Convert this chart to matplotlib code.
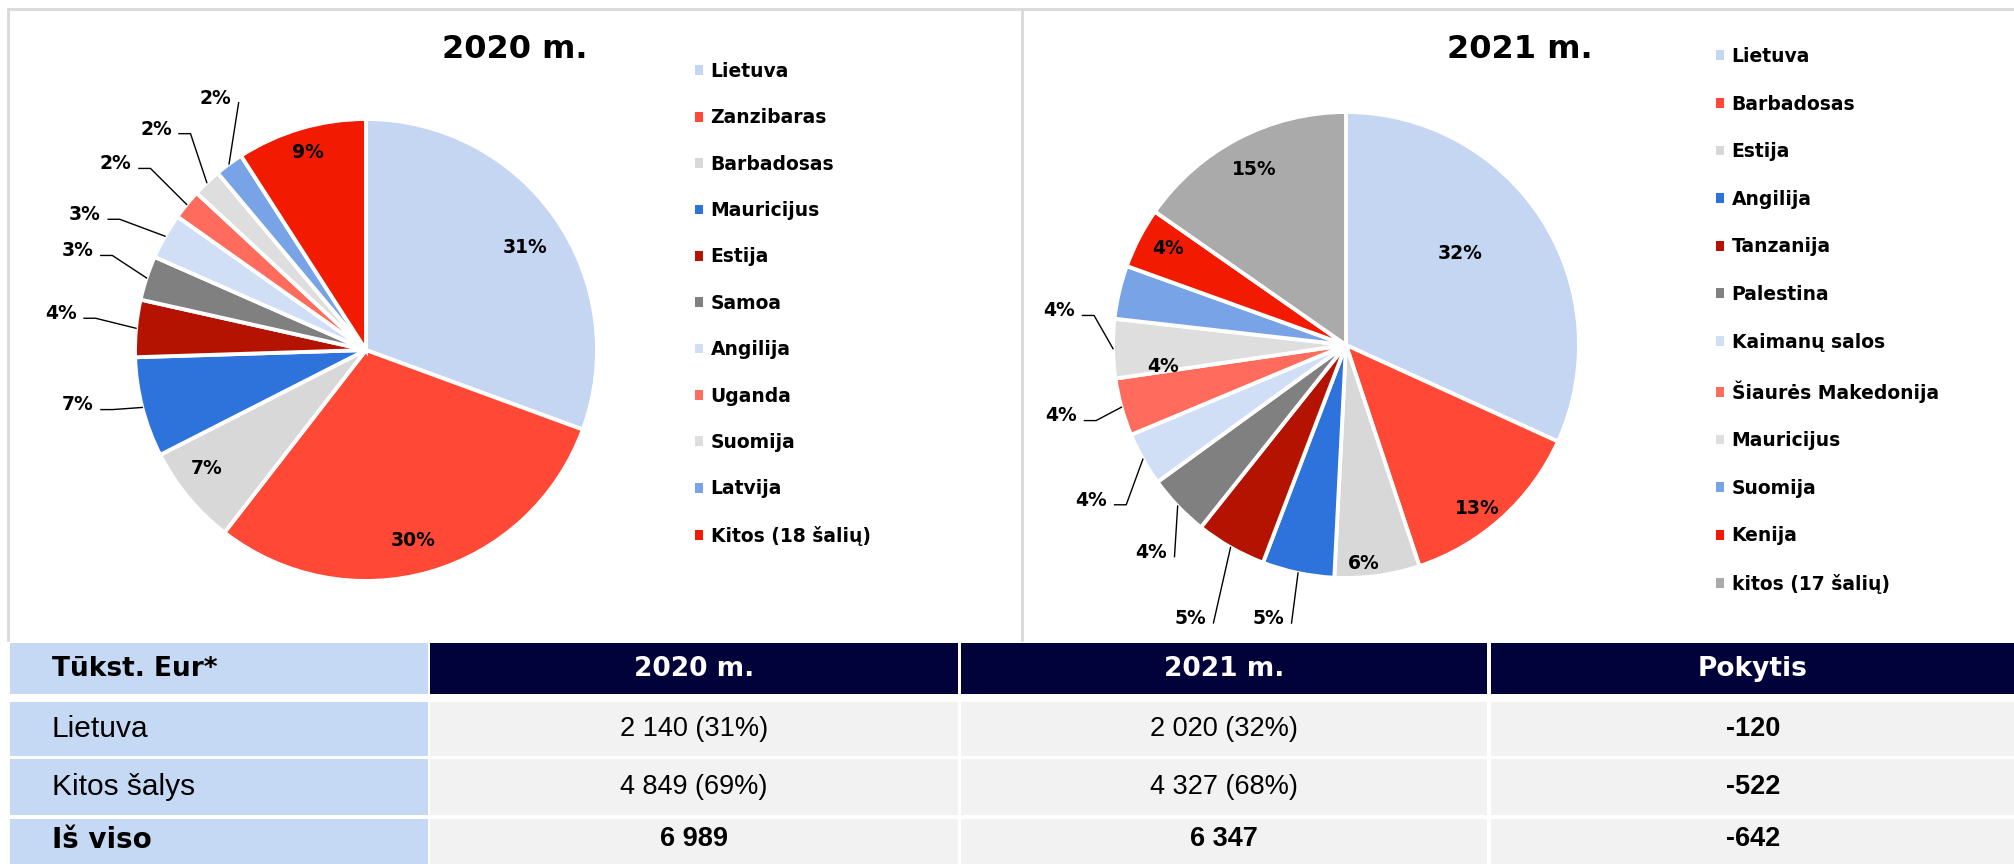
import matplotlib
matplotlib.use('Agg')
import matplotlib.pyplot as plt  # Grafikams
import matplotlib.patches as mpatches
import numpy as np

W, H = 2015, 864  # paveikslo dydis pikseliais

# 2020 m. pasiskirstymas pagal šalis (%)
salys_2020 = ['Lietuva', 'Zanzibaras', 'Barbadosas', 'Mauricijus', 'Estija', 'Samoa',
              'Angilija', 'Uganda', 'Suomija', 'Latvija', 'Kitos (18 šalių)']
dalys_2020 = [30.6, 29.9, 7.0, 7.0, 4.0, 3.1, 3.2, 2.1, 2.0, 2.0, 9.1]

# 2021 m. pasiskirstymas pagal šalis (%)
salys_2021 = ['Lietuva', 'Barbadosas', 'Estija', 'Angilija', 'Tanzanija', 'Palestina',
              'Kaimanų salos', 'Šiaurės Makedonija', 'Mauricijus', 'Suomija', 'Kenija',
              'kitos (17 šalių)']
dalys_2021 = [31.8, 13.1, 5.9, 5.0, 4.9, 4.3, 3.7, 4.0, 4.1, 3.7, 4.2, 15.3]

# Lentelės duomenys (tūkst. Eur)
eilutes = ['Lietuva', 'Kitos šalys']
suma_2020 = [2140, 4849]
suma_2021 = [2020, 4327]

spalvos = ['#C4D6F2', '#FF4936', '#D8D8D8', '#2E73DB', '#B31300', '#808080',
           '#D0DFF6', '#FF6B5C', '#DEDEDE', '#78A3E6', '#F21A00', '#AAAAAA']
spalvos_2020 = spalvos[:10] + ['#F21A00']
spalvos_2021 = spalvos

# Etikečių išdėstymas: atstumas nuo centro (r), kampo poslinkis (laipsn.), horizontali atkarpa
k_2020 = [0.82, 0.85, 0.86, 1.27, 1.33, 1.32, 1.35, 1.35, 1.32, 1.27, 0.89]
posl_2020 = [2, 2, 3, 3.6, 1.4, 0.8, -3.8, -2.4, 0, 5.5, 0]
stub_2020 = [0, 0, 0, 0.05, 0.05, 0.05, 0.05, 0.05, 0.05, 0, 0]

k_2021 = [0.63, 0.90, 0.94, 1.22, 1.35, 1.22, 1.28, 1.26, 1.24, 0.79, 0.87, 0.85]
posl_2021 = [-6, 3, 3, 4, 0, -3, -2, 1.5, 7.7, -20, 1, 0]
stub_2021 = [0, 0, 0, 0, 0, 0, 0.05, 0.05, 0.05, 0, 0, 0]

fig = plt.figure(figsize=(W / 100, H / 100), dpi=100)

# Fono ašys rėmeliams ir lentelei (pikselių koordinatės)
bg = fig.add_axes([0, 0, 1, 1])
bg.set_xlim(0, W)
bg.set_ylim(H, 0)
bg.axis('off')
remas = '#D9D9D9'
bg.plot([8, W], [9, 9], color=remas, lw=2)
bg.plot([8, 8], [9, 640], color=remas, lw=2)
bg.plot([1022, 1022], [9, 640], color=remas, lw=2)


def pyragas(cx, cy, r, salys, dalys, spalv, k_l, posl_l, stub_l, pavad, tx, leg_xy, leg_sp):
    ax = fig.add_axes([(cx - 1.5 * r) / W, (H - cy - 1.5 * r) / H, 3 * r / W, 3 * r / H])
    wedges, _ = ax.pie(dalys, colors=spalv, startangle=90, counterclock=False, radius=1,
                       wedgeprops=dict(edgecolor='white', linewidth=2.8))
    ax.set_xlim(-1.5, 1.5)
    ax.set_ylim(-1.5, 1.5)
    ax.set_aspect('equal')
    ax.axis('off')
    viso = sum(dalys)
    for w, v, k, s, stub in zip(wedges, dalys, k_l, posl_l, stub_l):
        mid = np.deg2rad((w.theta1 + w.theta2) / 2)
        a = mid - np.deg2rad(s)
        x, y = k * np.cos(a), k * np.sin(a)
        ax.text(x, y, f'{v / viso * 100:.0f}%', ha='center', va='center',
                fontsize=13.5, fontweight='bold', color='black')
        if k > 1:  # išorinė etiketė su linija
            sx, sy = x + 0.10, y - 0.02
            xs, ys = [sx], [sy]
            if stub:
                xs.append(sx + stub)
                ys.append(sy)
            xs.append(np.cos(mid))
            ys.append(np.sin(mid))
            ax.plot(xs, ys, color='black', lw=1)
    fig.text(tx / W, 1 - 49 / H, pavad, ha='center', va='center', fontsize=23, fontweight='bold')
    handles = [mpatches.Patch(facecolor=c, edgecolor='none') for c in spalv]
    ax.legend(handles, salys, loc='upper left', bbox_to_anchor=(leg_xy[0] / W, 1 - leg_xy[1] / H),
              bbox_transform=fig.transFigure, frameon=False, borderpad=0, borderaxespad=0,
              handlelength=0.43, handleheight=0.43, handletextpad=0.4, labelspacing=leg_sp,
              prop=dict(weight='bold', size=13.5))


pyragas(366, 350, 231, salys_2020, dalys_2020, spalvos_2020, k_2020, posl_2020, stub_2020,
        '2020 m.', 515, (695, 62), 1.46)
pyragas(1346, 345, 233, salys_2021, dalys_2021, spalvos_2021, k_2021, posl_2021, stub_2021,
        '2021 m.', 1520, (1716, 47), 1.525)

# Lentelė
x_rib = [(10, 428), (430, 958), (961, 1487), (1491, W)]
y_rib = [(643, 694), (702, 756), (759, 815), (819, H)]
sviesi = '#C5D8F4'
tamsi = '#02023A'
pilka = '#F2F2F2'

for i, (y0, y1) in enumerate(y_rib):
    for j, (x0, x1) in enumerate(x_rib):
        if j == 0:
            c = sviesi
        elif i == 0:
            c = tamsi
        else:
            c = pilka
        bg.add_patch(mpatches.Rectangle((x0, y0), x1 - x0, y1 - y0, facecolor=c, edgecolor='none'))


def fmt(v):
    return f'{v:,}'.replace(',', ' ')


viso_2020 = sum(suma_2020)
viso_2021 = sum(suma_2021)
stulp = ['2020 m.', '2021 m.', 'Pokytis']
xc = [(a + b) / 2 for a, b in x_rib]
yc = [(a + b) / 2 for a, b in y_rib]

bg.text(52, yc[0], 'Tūkst. Eur*', ha='left', va='center', fontsize=19, fontweight='bold',
        color='black')
for j, s in enumerate(stulp):
    bg.text(xc[j + 1], yc[0], s, ha='center', va='center', fontsize=19, fontweight='bold',
            color='white')

for i, pav in enumerate(eilutes):
    y = yc[i + 1]
    bg.text(52, y, pav, ha='left', va='center', fontsize=21.5, family='Liberation Sans')
    bg.text(xc[1], y, f'{fmt(suma_2020[i])} ({suma_2020[i] / viso_2020 * 100:.0f}%)',
            ha='center', va='center', fontsize=19.5, family='Liberation Sans')
    bg.text(xc[2], y, f'{fmt(suma_2021[i])} ({suma_2021[i] / viso_2021 * 100:.0f}%)',
            ha='center', va='center', fontsize=19.5, family='Liberation Sans')
    bg.text(xc[3], y, fmt(suma_2021[i] - suma_2020[i]), ha='center', va='center', fontsize=19.5,
            family='Liberation Sans', fontweight='bold')

y = yc[3] - 2
bg.text(52, y, 'Iš viso', ha='left', va='center', fontsize=20, fontweight='bold')
bg.text(xc[1], y, fmt(viso_2020), ha='center', va='center', fontsize=19.5,
        family='Liberation Sans', fontweight='bold')
bg.text(xc[2], y, fmt(viso_2021), ha='center', va='center', fontsize=19.5,
        family='Liberation Sans', fontweight='bold')
bg.text(xc[3], y, fmt(viso_2021 - viso_2020), ha='center', va='center', fontsize=19.5,
        family='Liberation Sans', fontweight='bold')

fig.savefig('out.png', dpi=100)
